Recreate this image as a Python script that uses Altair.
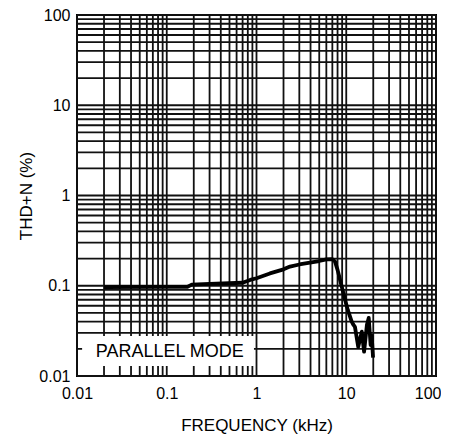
import altair as alt
import pandas as pd

# Curve
freq_khz = [0.02, 0.1, 0.17, 0.19, 0.3, 0.7, 0.85, 1.0, 1.41, 2.0, 2.36, 3.0, 3.94,
            5.0, 6.0, 7.0, 7.5, 8.0, 8.3, 8.9, 9.7, 10.4, 11.5, 12.0, 12.5, 13.6,
            14.9, 15.8, 17.0, 17.8, 18.7, 19.2, 19.9]
thd_pct = [0.0965, 0.097, 0.097, 0.103, 0.105, 0.108, 0.116, 0.121, 0.137, 0.152,
           0.163, 0.172, 0.18, 0.188, 0.196, 0.197, 0.185, 0.15, 0.13, 0.098, 0.07,
           0.054, 0.040, 0.037, 0.035, 0.021, 0.031, 0.0186, 0.037, 0.044, 0.022,
           0.028, 0.016]

# Axis ticks / grid
decades = [0.01, 0.1, 1, 10, 100]
grid_vals = [round(d * m, 6) for d in [0.01, 0.1, 1, 10] for m in range(1, 10)] + [100]

# Label box
box_label = ["PARALLEL MODE"]
box_x = [0.0114]
box_x2 = [0.937]
box_y = [0.0129]
box_y2 = [0.0277]
label_x = [0.108]
label_y = [0.0185]

FONT = "Liberation Sans"

xscale = alt.Scale(type="log", domain=[0.01, 100], nice=False)
yscale = alt.Scale(type="log", domain=[0.01, 100], nice=False)

xaxis = alt.Axis(values=decades, format="~g", grid=False, ticks=False, tickSize=0,
                 domain=False, labelPadding=9, labelFontSize=16, labelFont=FONT,
                 labelColor="black", title="FREQUENCY (kHz)", titleFont=FONT,
                 titleFontSize=17, titleFontWeight="normal", titleColor="black",
                 titlePadding=16, labelFlush=False,
                 labelAlign={"condition": {"test": "datum.value >= 100", "value": "right"},
                             "value": "center"},
                 labelOffset={"condition": {"test": "datum.value >= 100", "value": 5},
                              "value": 0})
yaxis = alt.Axis(values=decades, format="~g", grid=False, ticks=False, tickSize=0,
                 domain=False, labelPadding=7, labelFontSize=16, labelFont=FONT,
                 labelColor="black", title="THD+N (%)", titleFont=FONT,
                 titleFontSize=17, titleFontWeight="normal", titleColor="black",
                 titlePadding=3, labelFlush=False)

curve_df = pd.DataFrame({"f": freq_khz, "thd": thd_pct})
grid_df = pd.DataFrame({"g": grid_vals})
box_df = pd.DataFrame({"x": box_x, "x2": box_x2, "y": box_y, "y2": box_y2,
                       "lx": label_x, "ly": label_y, "t": box_label})

vgrid = alt.Chart(grid_df).mark_rule(color="#111111", strokeWidth=1.8).encode(
    x=alt.X("g:Q", scale=xscale, axis=xaxis)
)
hgrid = alt.Chart(grid_df).mark_rule(color="#111111", strokeWidth=1.8).encode(
    y=alt.Y("g:Q", scale=yscale, axis=yaxis)
)
box = alt.Chart(box_df).mark_rect(color="white").encode(
    x=alt.X("x:Q", scale=xscale, axis=xaxis), x2="x2:Q",
    y=alt.Y("y:Q", scale=yscale, axis=yaxis), y2="y2:Q"
)
label = alt.Chart(box_df).mark_text(font=FONT, fontSize=18, color="black",
                                    align="center", baseline="middle").encode(
    x=alt.X("lx:Q", scale=xscale, axis=xaxis),
    y=alt.Y("ly:Q", scale=yscale, axis=yaxis),
    text="t:N"
)
line = alt.Chart(curve_df).mark_line(color="black", strokeWidth=3.8,
                                     strokeJoin="round").encode(
    x=alt.X("f:Q", scale=xscale, axis=xaxis),
    y=alt.Y("thd:Q", scale=yscale, axis=yaxis),
    order="f:Q"
)

chart = alt.layer(vgrid, hgrid, box, label, line).properties(
    width=359, height=361,
    autosize=alt.AutoSizeParams(type="none"),
    padding={"left": 69, "top": 7, "right": 5, "bottom": 60},
    background="white"
).configure_view(stroke="black", strokeWidth=2)

chart.save("out.html", embed_options={"renderer": "svg", "actions": False})
